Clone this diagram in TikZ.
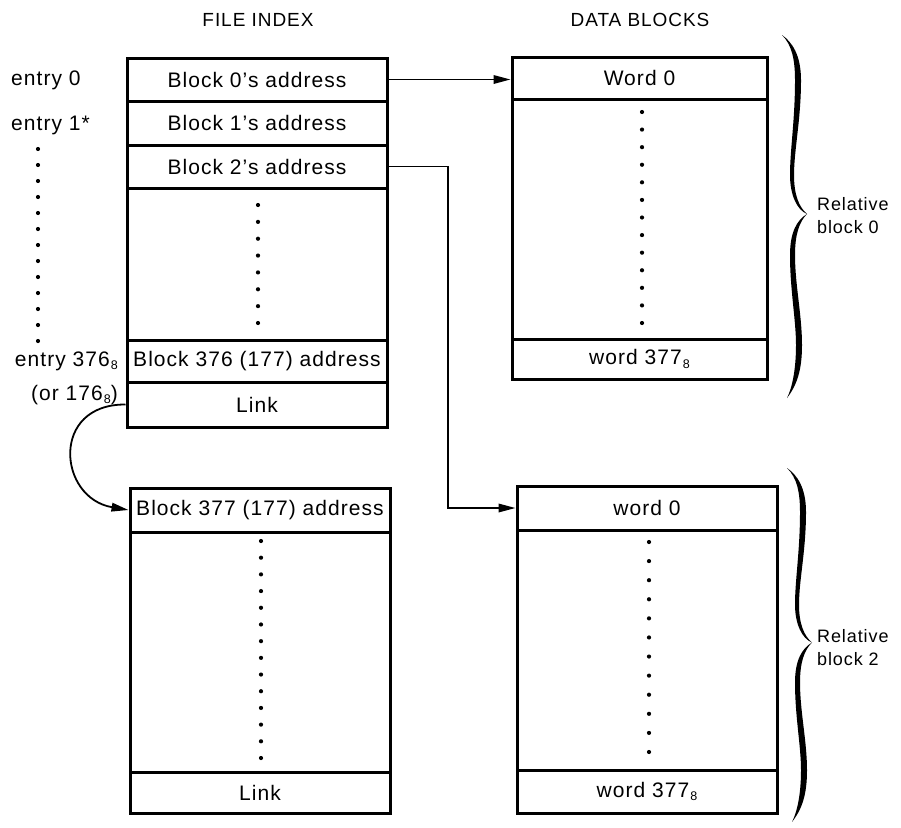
\documentclass[tikz,border=0pt]{standalone}
\usepackage{fontspec}
\setmainfont[LetterSpace=5.0]{Liberation Sans}
\usetikzlibrary{arrows.meta}
% small lowered "8" marking an octal number
\newcommand\baseeight{\kern1pt\raisebox{-3.5pt}{\fontsize{12.5}{12}\selectfont 8}}
\begin{document}
\begin{tikzpicture}[x=1pt,y=-1pt,
  cell/.style n args={2}{draw, line width=3pt, minimum width=#1pt,
    minimum height=#2pt, inner sep=1pt, font=\fontsize{21}{24}\selectfont},
  label/.style={inner sep=0pt, font=\fontsize{21}{24}\selectfont},
  header/.style={inner sep=0pt, font=\fontsize{19}{22}\selectfont},
  side/.style={inner sep=0pt, align=left, font=\fontsize{18}{23}\selectfont},
  link/.style={line width=1.8pt, -{Triangle[length=17pt,width=8.5pt]}},
  dotmark/.style={fill=black},
  curlybrace/.pic={
    % upper arm
    \fill (0,0) .. controls (10,10) and (13,25) .. (13,45)
      .. controls (13,85) and (8,115) .. (8,140)
      .. controls (8,160) and (15,175) .. (25,179)
      .. controls (17,172) and (12,160) .. (12,140)
      .. controls (12,115) and (19,85) .. (19,45)
      .. controls (19,20) and (10,7) .. (0,0) -- cycle;
    % lower arm
    \fill (25,179) .. controls (15,185) and (8,197) .. (8,220)
      .. controls (8,255) and (14,285) .. (14,310)
      .. controls (14,335) and (10,353) .. (5,363)
      .. controls (15,350) and (20,335) .. (20,310)
      .. controls (20,280) and (13,250) .. (13,220)
      .. controls (13,200) and (17,187) .. (25,179) -- cycle;
  }]
\useasboundingbox[fill=white] (0,0) rectangle (901,827);

% headings
\node[header] (hidx) at (258,20) {FILE INDEX};
\node[header] (hdat) at (640,20) {DATA BLOCKS};

% first index block
\node[cell={260}{43}]  (fi0)   at (257,79.5)  {Block 0’s address};
\node[cell={260}{44}]  (fi1)   at (257,123)   {Block 1’s address};
\node[cell={260}{43}]  (fi2)   at (257,166.5) {Block 2’s address};
\node[cell={260}{152}] (fidot) at (257,264)   {};
\node[cell={260}{42}]  (fi376) at (257,361)   {Block 376 (177) address};
\node[cell={260}{45}]  (filnk) at (257,404.5) {Link};

% second index block
\node[cell={260}{44}]  (gi377) at (260,510)   {Block 377 (177) address};
\node[cell={260}{240}] (gidot) at (260,652)   {};
\node[cell={260}{41}]  (gilnk) at (260,792.5) {Link};

% data block 0
\node[cell={255}{42}]  (d0w0)  at (639.5,78)  {Word 0};
\node[cell={255}{240}] (d0dot) at (639.5,219) {};
\node[cell={255}{40}]  (d0wl)  at (639.5,359) {word 377\baseeight};

% data block 2
\node[cell={260}{44}]  (d2w0)  at (647,508)   {word 0};
\node[cell={260}{240}] (d2dot) at (647,650)   {};
\node[cell={260}{43}]  (d2wl)  at (647,791.5) {word 377\baseeight};

% entry labels
\node[label,anchor=west] (e0) at (11,80)  {entry 0};
\node[label,anchor=west] (e1) at (11,125) {entry 1*};
\node[label,anchor=east] (e376) at (118,361) {entry 376\baseeight};
\node[label,anchor=east] (e176) at (118,395) {(or 176\baseeight)};

% columns of dots
\foreach \i in {0,...,12} \fill[dotmark] (38,149+\i*16) circle (2.1pt);
\foreach \i in {0,...,7}  \fill[dotmark] (258,205+\i*16.857) circle (2.1pt);
\foreach \i in {0,...,12} \fill[dotmark] (642,112+\i*17.583) circle (2.1pt);
\foreach \i in {0,...,13} \fill[dotmark] (261,541+\i*16.692) circle (2.1pt);
\foreach \i in {0,...,11} \fill[dotmark] (649,542+\i*19.09) circle (2.1pt);

% connectors
\draw[link] (fi0.east) -- (fi0.east -| d0w0.west);
\coordinate (bend) at (448,166.5);
\draw[link] (fi2.east) -- (bend) |- (d2w0.west);
\draw[link] (filnk.west) .. controls (50,404) and (58,498) .. (gi377.west);

% braces and their labels
\pic at (782,35) {curlybrace};
\pic[yscale=0.975] at (787,468) {curlybrace};
\node[side,anchor=west] (rb0) at (817,216) {Relative\\block 0};
\node[side,anchor=west] (rb2) at (817,648) {Relative\\block 2};
\end{tikzpicture}
\end{document}
